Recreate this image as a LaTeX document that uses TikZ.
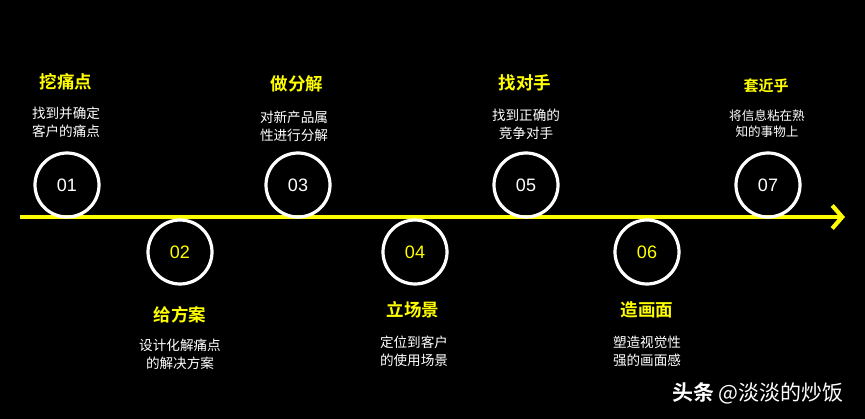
\documentclass[tikz,border=0pt]{standalone}
\usepackage{fontspec}
\setmainfont{Liberation Sans}
\newfontfamily\cjk{Noto Sans CJK SC}[BoldFont={Noto Sans CJK SC Bold}]
\usetikzlibrary{arrows.meta}
\definecolor{stepyellow}{RGB}{255,255,0}

\tikzset{
    stepcircle/.style={circle, draw=white, line width=3.2pt, minimum size=64pt, inner sep=0pt, font=\fontsize{18}{18}\selectfont},
    steptitle/.style={text=stepyellow, font=\cjk\bfseries\fontsize{17.5}{19}\selectfont},
    stepnote/.style={text=white, align=center, font=\cjk\fontsize{13.6}{18}\selectfont}
}

\begin{document}
\begin{tikzpicture}[x=1pt, y=-1pt]
        \fill[black] (0,0) rectangle (865,419);
        \useasboundingbox (0,0) rectangle (865,419);

        % timeline
        \coordinate (start) at (20, 217);
        \coordinate (end) at (845, 217);
        \draw[stepyellow, line width=4.2pt, -{Straight Barb[length=10pt, width=23pt, line width=4.2pt]}] (start) -- (end);

        % steps above the line
        \node[stepcircle, text=white] (c1) at (67, 185) {01};
        \node[steptitle] (t1) at (66, 82) {挖痛点};
        \node[stepnote] (n1) at (66, 122) {找到并确定\\客户的痛点};

        \node[stepcircle, text=white] (c3) at (298, 185) {03};
        \node[steptitle] (t3) at (297, 84) {做分解};
        \node[stepnote] (n3) at (294, 126) {对新产品属\\性进行分解};

        \node[stepcircle, text=white] (c5) at (526, 185) {05};
        \node[steptitle] (t5) at (525, 83) {找对手};
        \node[stepnote] (n5) at (526, 124) {找到正确的\\竞争对手};

        \node[stepcircle, text=white] (c7) at (768, 185) {07};
        \node[steptitle, font=\cjk\bfseries\fontsize{15}{17}\selectfont] (t7) at (766, 86) {套近乎};
        \node[stepnote, font=\cjk\fontsize{12.6}{16}\selectfont] (n7) at (767, 124) {将信息粘在熟\\知的事物上};

        % steps below the line
        \node[stepcircle, text=stepyellow] (c2) at (180, 252) {02};
        \node[steptitle] (t2) at (180, 315) {给方案};
        \node[stepnote] (n2) at (180, 354) {设计化解痛点\\的解决方案};

        \node[stepcircle, text=stepyellow] (c4) at (415, 252) {04};
        \node[steptitle] (t4) at (413, 310) {立场景};
        \node[stepnote] (n4) at (414, 351) {定位到客户\\的使用场景};

        \node[stepcircle, text=stepyellow] (c6) at (647, 252) {06};
        \node[steptitle] (t6) at (647, 310) {造画面};
        \node[stepnote] (n6) at (647, 351) {塑造视觉性\\强的画面感};

        % watermark
        \node[text=white, anchor=west, inner sep=0pt, font=\cjk\fontsize{21}{23}\selectfont] (mark) at (672, 393) {\textbf{头条} @淡淡的炒饭};
    \end{tikzpicture}
\end{document}
